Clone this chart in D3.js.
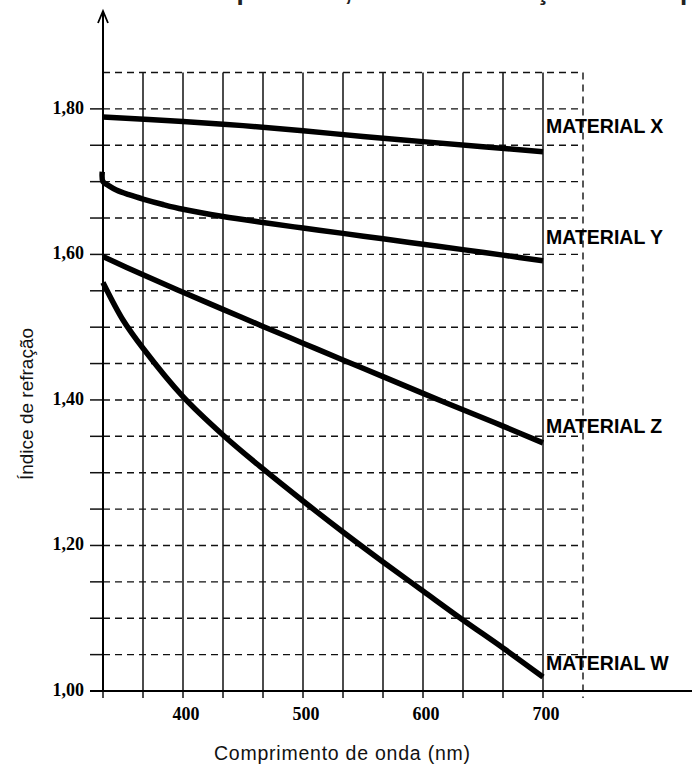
<!DOCTYPE html>
<html>
<head>
<meta charset="utf-8">
<script src="https://cdn.jsdelivr.net/npm/d3@7"></script>
<style>
  body { margin: 0; background: #fff; }
  svg { display: block; }
</style>
</head>
<body>
<div id="chart"></div>
<script>
const width = 692, height = 764;

// values
const xTicks = [400, 500, 600, 700];
const yTicks = [1.00, 1.20, 1.40, 1.60, 1.80];
const materials = ["MATERIAL X", "MATERIAL Y", "MATERIAL Z", "MATERIAL W"];

const waveX = [333.3, 400, 450, 500, 550, 600, 650, 700];
const indexX = [1.789, 1.7825, 1.777, 1.770, 1.762, 1.755, 1.748, 1.741];

const waveY = [332.7, 333.3, 337.2, 344.4, 355.6, 366.7, 383.3, 400, 433.3, 466.7, 500, 533.3, 566.7, 600, 633.3, 666.7, 700];
const indexY = [1.7137, 1.6999, 1.6954, 1.6885, 1.6817, 1.6761, 1.6686, 1.662, 1.6521, 1.6439, 1.6362, 1.6289, 1.6214, 1.614, 1.6066, 1.599, 1.5912];

const waveZ = [333.3, 366.7, 400, 433.3, 466.7, 500, 533.3, 566.7, 600, 633.3, 666.7, 700];
const indexZ = [1.597, 1.572, 1.548, 1.5245, 1.501, 1.478, 1.455, 1.432, 1.409, 1.3865, 1.364, 1.341];

const waveW = [333.3, 350, 366.7, 400, 433.3, 466.7, 500, 533.3, 566.7, 600, 633.3, 666.7, 700];
const indexW = [1.5615, 1.5099, 1.471, 1.4045, 1.3518, 1.3051, 1.2611, 1.2185, 1.1773, 1.1374, 1.0976, 1.0591, 1.0192];

// where each material name sits (refraction index of its baseline)
const labelIndex = [1.767, 1.6145, 1.3545, 1.029];

const series = [
  [waveX, indexX], [waveY, indexY], [waveZ, indexZ], [waveW, indexW]
].map(([w, n], i) => ({
  name: materials[i],
  labelN: labelIndex[i],
  points: w.map((v, j) => ({ wave: v, n: n[j] }))
}));

// grid: a line every 1/3 of 100 nm and every 0.05
const gridStep = 100 / 3;
const xStart = 1000 / 3;
const xGrid = d3.range(0, 12).map(k => xStart + k * gridStep);
const xEdge = xStart + 12 * gridStep;
const yGrid = d3.range(1, 18).map(k => +(1 + k * 0.05).toFixed(2));

const svg = d3.select("#chart")
  .append("svg")
  .attr("width", width)
  .attr("height", height);

svg.append("rect").attr("width", width).attr("height", height).attr("fill", "#fff");

const x = d3.scaleLinear().domain([xStart, xEdge]).range([103, 583]);
const y = d3.scaleLinear().domain([1.0, 1.85]).range([691, 72.5]);

// cut-off sentence at the very top of the picture
svg.append("text")
  .attr("x", -2)
  .attr("y", 0)
  .style("font-family", "Liberation Sans, Arial, sans-serif")
  .style("font-size", "26px")
  .style("font-weight", "bold")
  .style("fill", "#222")
  .text("dos materiais transparentes, variam em função do comprimento de onda");

// horizontal dashed grid
svg.append("g")
  .selectAll("line")
  .data(yGrid)
  .enter()
  .append("line")
  .attr("x1", x(xStart))
  .attr("x2", x(xEdge))
  .attr("y1", d => y(d))
  .attr("y2", d => y(d))
  .attr("stroke", "#111")
  .attr("stroke-width", 1.4)
  .attr("stroke-dasharray", "7,5");

// left ticks
svg.append("g")
  .selectAll("line")
  .data(yGrid.filter(d => d < 1.84))
  .enter()
  .append("line")
  .attr("x1", x(xStart) - 13)
  .attr("x2", x(xStart))
  .attr("y1", d => y(d))
  .attr("y2", d => y(d))
  .attr("stroke", "#111")
  .attr("stroke-width", 1.5);

// vertical solid grid (down past the axis as ticks)
svg.append("g")
  .selectAll("line")
  .data(xGrid)
  .enter()
  .append("line")
  .attr("x1", d => x(d))
  .attr("x2", d => x(d))
  .attr("y1", y(1.85))
  .attr("y2", y(1.0) + 7)
  .attr("stroke", "#111")
  .attr("stroke-width", 1.5);

// right dashed border
svg.append("line")
  .attr("x1", x(xEdge))
  .attr("x2", x(xEdge))
  .attr("y1", y(1.85))
  .attr("y2", y(1.0) + 7)
  .attr("stroke", "#111")
  .attr("stroke-width", 1.4)
  .attr("stroke-dasharray", "7,5");

// x axis line
svg.append("line")
  .attr("x1", x(xStart) - 13)
  .attr("x2", width)
  .attr("y1", y(1.0))
  .attr("y2", y(1.0))
  .attr("stroke", "#000")
  .attr("stroke-width", 2);

// y axis with arrow
const axisX = x(xStart);
svg.append("line")
  .attr("x1", axisX)
  .attr("x2", axisX)
  .attr("y1", y(1.0))
  .attr("y2", 11)
  .attr("stroke", "#000")
  .attr("stroke-width", 2);

svg.append("path")
  .attr("d", `M${axisX - 5},23 L${axisX},11 L${axisX + 5},23`)
  .attr("fill", "none")
  .attr("stroke", "#000")
  .attr("stroke-width", 1.8);

// tick labels
svg.append("g")
  .selectAll("text")
  .data(xTicks)
  .enter()
  .append("text")
  .attr("x", d => x(d) + 3)
  .attr("y", 720)
  .attr("text-anchor", "middle")
  .style("font-family", "Liberation Serif, Times New Roman, serif")
  .style("font-size", "18px")
  .style("font-weight", "bold")
  .text(d => d);

const fmt = d => d3.format(".2f")(d).replace(".", ",");
svg.append("g")
  .selectAll("text")
  .data(yTicks)
  .enter()
  .append("text")
  .attr("x", 84)
  .attr("y", d => y(d) + 5)
  .attr("text-anchor", "end")
  .style("font-family", "Liberation Serif, Times New Roman, serif")
  .style("font-size", "18px")
  .style("font-weight", "bold")
  .text(fmt);

// axis titles
svg.append("text")
  .attr("x", 214)
  .attr("y", 760)
  .attr("textLength", 256)
  .attr("lengthAdjust", "spacing")
  .style("font-family", "Liberation Sans, Arial, sans-serif")
  .style("font-size", "19.5px")
  .style("fill", "#111")
  .text("Comprimento de onda (nm)");

svg.append("text")
  .attr("transform", "rotate(-90)")
  .attr("x", -404)
  .attr("y", 33)
  .attr("text-anchor", "middle")
  .style("font-family", "Liberation Sans, Arial, sans-serif")
  .style("font-size", "19px")
  .style("fill", "#111")
  .text("Índice de refração");

// curves
const line = d3.line()
  .x(d => x(d.wave))
  .y(d => y(d.n))
  .curve(d3.curveCatmullRom.alpha(0.5));

svg.append("g")
  .selectAll("path")
  .data(series)
  .enter()
  .append("path")
  .attr("fill", "none")
  .attr("stroke", "#000")
  .attr("stroke-width", 5.5)
  .attr("d", d => line(d.points));

// material names
svg.append("g")
  .selectAll("text")
  .data(series)
  .enter()
  .append("text")
  .attr("x", x(700) + 3)
  .attr("y", d => y(d.labelN))
  .style("font-family", "Liberation Sans, Arial, sans-serif")
  .style("font-size", "19.5px")
  .style("font-weight", "bold")
  .text(d => d.name);
</script>
</body>
</html>
